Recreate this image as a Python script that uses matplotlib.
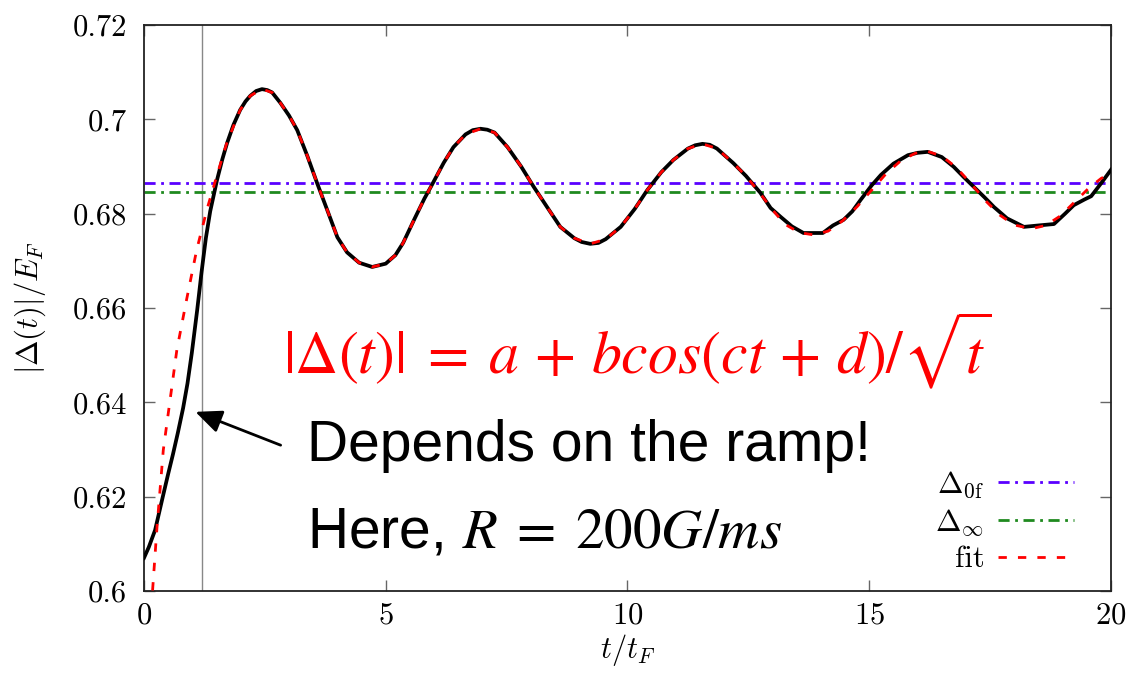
import matplotlib
matplotlib.use("Agg")
import matplotlib.pyplot as plt

# simulated gap |Delta(t)|/E_F (black curve)
t_data = [0.00, 0.10, 0.23, 0.39, 0.50, 0.60, 0.70, 0.81, 0.90, 0.99, 1.10, 1.19, 1.28,
          1.37, 1.51, 1.62, 1.72, 1.85, 1.99, 2.10, 2.20, 2.32, 2.44, 2.55, 2.65, 2.82,
          3.00, 3.17, 3.38, 3.58, 3.80, 4.00, 4.20, 4.45, 4.72, 5.00, 5.20, 5.36, 5.60,
          5.80, 5.95, 6.20, 6.40, 6.65, 6.80, 6.96, 7.10, 7.25, 7.52, 7.80, 8.06, 8.35,
          8.61, 8.90, 9.05, 9.23, 9.40, 9.55, 9.86, 10.15, 10.41, 10.70, 10.95, 11.25,
          11.40, 11.55, 11.70, 11.85, 12.19, 12.45, 12.75, 12.96, 13.17, 13.40, 13.64,
          14.04, 14.25, 14.47, 14.65, 14.82, 15.05, 15.24, 15.50, 15.80, 16.00, 16.21,
          16.50, 16.75, 16.95, 17.16, 17.38, 17.58, 17.85, 18.20, 18.50, 18.82, 19.05,
          19.23, 19.45, 19.59, 19.80, 20.00]
gap_data = [0.6070, 0.6093, 0.6129, 0.6200, 0.6248, 0.6290, 0.6335, 0.6388, 0.6440,
            0.6505, 0.6595, 0.6675, 0.6748, 0.6805, 0.6871, 0.6915, 0.6950, 0.6988,
            0.7020, 0.7038, 0.7050, 0.7060, 0.7064, 0.7062, 0.7057, 0.7035, 0.7008,
            0.6977, 0.6922, 0.6865, 0.6805, 0.6750, 0.6718, 0.6696, 0.6687, 0.6694,
            0.6712, 0.6738, 0.6790, 0.6832, 0.6860, 0.6908, 0.6941, 0.6968, 0.6977,
            0.6980, 0.6978, 0.6972, 0.6941, 0.6900, 0.6857, 0.6812, 0.6772, 0.6748,
            0.6740, 0.6736, 0.6738, 0.6746, 0.6772, 0.6810, 0.6850, 0.6888, 0.6914,
            0.6938, 0.6945, 0.6948, 0.6946, 0.6938, 0.6907, 0.6880, 0.6844, 0.6812,
            0.6793, 0.6773, 0.6759, 0.6759, 0.6775, 0.6787, 0.6805, 0.6829, 0.6860,
            0.6882, 0.6906, 0.6924, 0.6929, 0.6931, 0.6920, 0.6899, 0.6878, 0.6857,
            0.6835, 0.6814, 0.6790, 0.6772, 0.6775, 0.6778, 0.6800, 0.6818, 0.6830,
            0.6837, 0.6865, 0.6893]

# fit a + b cos(ct+d)/sqrt(t) (red dashed)
t_fit = [0.15, 0.27, 0.40, 0.54, 0.68, 0.88, 1.09, 1.30, 1.50, 1.72, 1.99, 2.20,
         2.44, 2.65, 2.82, 3.00, 3.17, 3.38, 3.58, 3.80, 4.00, 4.20, 4.45, 4.72,
         5.00, 5.20, 5.36, 5.60, 5.80, 5.95, 6.20, 6.40, 6.65, 6.96, 7.25, 7.52,
         7.80, 8.06, 8.35, 8.61, 8.90, 9.23, 9.55, 9.86, 10.15, 10.41, 10.70, 10.95,
         11.25, 11.55, 11.85, 12.19, 12.45, 12.75, 13.00, 13.25, 13.55, 13.85, 14.15,
         14.45, 14.75, 15.05, 15.35, 15.65, 15.95, 16.21, 16.50, 16.80, 17.10, 17.40,
         17.70, 18.00, 18.35, 18.65, 18.95, 19.25, 19.55, 19.80, 20.00]
gap_fit = [0.5960, 0.6136, 0.6299, 0.6405, 0.6511, 0.6617, 0.6723, 0.6808, 0.6878,
           0.6952, 0.7020, 0.7050, 0.7064, 0.7057, 0.7035, 0.7008, 0.6977, 0.6922,
           0.6865, 0.6805, 0.6750, 0.6718, 0.6696, 0.6687, 0.6694, 0.6712, 0.6738,
           0.6790, 0.6832, 0.6860, 0.6908, 0.6941, 0.6968, 0.6980, 0.6972, 0.6941,
           0.6900, 0.6857, 0.6812, 0.6772, 0.6748, 0.6736, 0.6746, 0.6772, 0.6810,
           0.6850, 0.6888, 0.6914, 0.6938, 0.6948, 0.6938, 0.6907, 0.6880, 0.6842,
           0.6808, 0.6778, 0.6760, 0.6755, 0.6763, 0.6785, 0.6815, 0.6850, 0.6885,
           0.6912, 0.6928, 0.6932, 0.6922, 0.6898, 0.6864, 0.6828, 0.6797, 0.6776,
           0.6768, 0.6775, 0.6795, 0.6825, 0.6855, 0.6875, 0.6885]

delta_0f = 0.6864
delta_inf = 0.6845
t_ramp_end = 1.2

plt.rcParams['font.family'] = 'serif'
plt.rcParams['font.serif'] = ['cmr10']
plt.rcParams['mathtext.fontset'] = 'cm'
plt.rcParams['axes.formatter.use_mathtext'] = True

fig = plt.figure(figsize=(11.3, 6.79), dpi=100)
ax = fig.add_axes([0.1274, 0.1296, 0.8558, 0.8336])

ax.axvline(t_ramp_end, color='#888888', lw=1.0, zorder=1)
ax.axhline(delta_0f, color='#5a00ff', lw=2.0, dashes=(4, 2, 1, 2), label=r'$\Delta_{0\mathrm{f}}$', zorder=2)
ax.axhline(delta_inf, color='#1f8a1f', lw=2.0, dashes=(4, 2, 1, 2), label=r'$\Delta_{\infty}$', zorder=2)
ax.plot(t_data, gap_data, color='black', lw=2.7, solid_joinstyle='round', zorder=3)
ax.plot(t_fit, gap_fit, color='#ff0000', lw=2.0, dashes=(3, 4), label='fit', zorder=4)

ax.set_xlim(0, 20)
ax.set_ylim(0.6, 0.72)
ax.set_xticks([0, 5, 10, 15, 20])
ax.set_yticks([0.6, 0.62, 0.64, 0.66, 0.68, 0.7, 0.72])
ax.set_yticklabels(['0.6', '0.62', '0.64', '0.66', '0.68', '0.7', '0.72'])
ax.tick_params(direction='in', length=8, width=1, color='#666666', labelsize=22,
               top=True, right=True)
ax.tick_params(axis='y', pad=12)
ax.tick_params(axis='x', pad=8)
for s in ax.spines.values():
    s.set_linewidth(1.3)
    s.set_color('#222222')

ax.set_xlabel(r'$t/t_F$', fontsize=22, labelpad=2)
ax.set_ylabel(r'$|\Delta(t)|/E_F$', fontsize=22, labelpad=18)

ax.text(10.2, 0.6462, r'$|\Delta(t)|\;=\;a\,+\,bcos(ct\,+\,d)/\sqrt{t}$', color='#ff0000',
        fontsize=43, ha='center', va='baseline', math_fontfamily='stix')
ax.text(3.37, 0.6276, 'Depends on the ramp!', fontsize=41, family='Liberation Sans',
        ha='left', va='baseline')
ax.text(3.37, 0.6093, r'Here, $R\;=\;200G/ms$', fontsize=41, family='Liberation Sans',
        ha='left', va='baseline', math_fontfamily='stix')
ax.annotate('', xy=(1.01, 0.6382), xytext=(2.88, 0.6307),
            arrowprops=dict(arrowstyle='-|>,head_length=0.8,head_width=0.35',
                            color='black', lw=2, mutation_scale=20))

ax.legend(loc='lower right', frameon=False, markerfirst=False, fontsize=22,
          handlelength=2.5, handletextpad=0.45, labelspacing=0.25, borderpad=0,
          bbox_to_anchor=(0.978, 0.004))

fig.savefig('out.png', dpi=100)
